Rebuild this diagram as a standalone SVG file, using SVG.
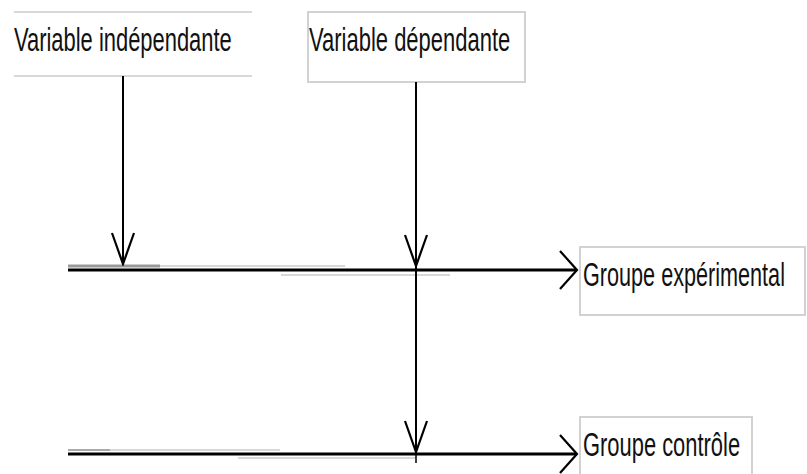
<svg xmlns="http://www.w3.org/2000/svg" width="807" height="474" viewBox="0 0 807 474">
<style>
.box{fill:#fff;stroke:#d2d2d2;stroke-width:2}
.lbl{font-family:"Liberation Sans",Arial,sans-serif;font-size:33px;fill:#111}
.conn{stroke:#000;fill:none}
.ghost{stroke:#d8d8d8;stroke-width:2;fill:none}
</style>
<defs>
<marker id="vdown" viewBox="-34 -14 36 28" refX="0" refY="0" markerWidth="36" markerHeight="28" orient="auto" markerUnits="userSpaceOnUse">
<path d="M-31,-11 L0,0 L-31,11" fill="none" stroke="#000" stroke-width="2.2"/>
</marker>
<marker id="vright" viewBox="-20 -22 22 44" refX="0" refY="0" markerWidth="22" markerHeight="44" orient="auto" markerUnits="userSpaceOnUse">
<path d="M-17,-19 L0,0 L-17,19" fill="none" stroke="#000" stroke-width="2.2"/>
</marker>
</defs>
<rect width="807" height="474" fill="#fff"/>
<g id="node-vi">
<line x1="14" y1="12" x2="252" y2="12" class="ghost" stroke-width="3"/>
<line x1="14" y1="76" x2="252" y2="76" class="ghost" stroke-width="3"/>
<text transform="translate(14,51) scale(0.66,1)" class="lbl" textLength="330" lengthAdjust="spacingAndGlyphs">Variable indépendante</text>
</g>
<g id="node-vd">
<rect x="308" y="12" width="217" height="70" class="box"/>
<text transform="translate(309,51) scale(0.66,1)" class="lbl" textLength="305" lengthAdjust="spacingAndGlyphs">Variable dépendante</text>
</g>
<g id="node-ge">
<rect x="580" y="247" width="225" height="68" class="box"/>
<text transform="translate(583,286) scale(0.66,1)" class="lbl" textLength="306" lengthAdjust="spacingAndGlyphs">Groupe expérimental</text>
</g>
<g id="node-gc">
<rect x="580" y="417" width="172" height="80" class="box"/>
<text transform="translate(583,456) scale(0.66,1)" class="lbl" textLength="238" lengthAdjust="spacingAndGlyphs">Groupe contrôle</text>
</g>
<g id="connectors">
<line x1="68" y1="266" x2="160" y2="266" stroke="#999" stroke-width="3"/>
<line x1="160" y1="266" x2="345" y2="266" class="ghost"/>
<line x1="281" y1="275" x2="450" y2="275" class="ghost"/>
<line x1="68" y1="450" x2="110" y2="450" stroke="#aaa" stroke-width="2"/>
<line x1="110" y1="450" x2="280" y2="450" class="ghost"/>
<line x1="238" y1="458" x2="416" y2="458" class="ghost"/>
<line x1="123" y1="76" x2="123" y2="264" class="conn" stroke-width="2" marker-end="url(#vdown)"/>
<line x1="416" y1="82" x2="416" y2="266" class="conn" stroke-width="2" marker-end="url(#vdown)"/>
<line x1="416" y1="266" x2="416" y2="452" class="conn" stroke-width="2" marker-end="url(#vdown)"/>
<line x1="416" y1="452" x2="416" y2="463" class="conn" stroke-width="1.5" stroke="#777"/>
<line x1="68" y1="270" x2="577" y2="270" class="conn" stroke-width="3" marker-end="url(#vright)"/>
<line x1="68" y1="454" x2="577" y2="454" class="conn" stroke-width="3" marker-end="url(#vright)"/>
</g>
</svg>
